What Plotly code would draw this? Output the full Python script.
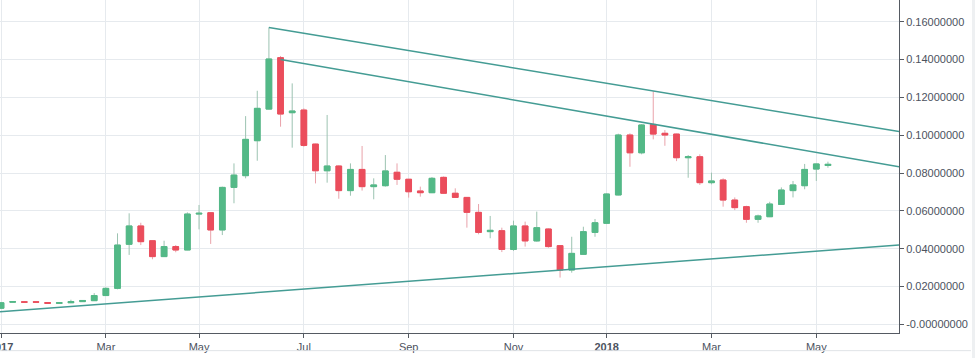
import pandas as pd
import plotly.graph_objects as go

# Weekly bars starting Monday 2017-01-02
week_start = "2017-01-02"
n_weeks = 72

open_ = [0.0085, 0.0117, 0.0119, 0.0119, 0.0115, 0.0111, 0.0114, 0.0120, 0.0125, 0.0152,
         0.0190, 0.0423, 0.0520, 0.0442, 0.0358, 0.0411, 0.0393, 0.0583, 0.0590, 0.0499,
         0.0724, 0.0786, 0.0971, 0.1138, 0.1410, 0.1119, 0.1133, 0.0953, 0.0812, 0.0837,
         0.0707, 0.0819, 0.0728, 0.0733, 0.0804, 0.0767, 0.0705, 0.0696, 0.0777, 0.0693,
         0.0671, 0.0592, 0.0490, 0.0495, 0.0396, 0.0520, 0.0441, 0.0504, 0.0416, 0.0287,
         0.0370, 0.0486, 0.0534, 0.0684, 0.1001, 0.0907, 0.1057, 0.1010, 0.1006, 0.0881,
         0.0886, 0.0749, 0.0763, 0.0657, 0.0622, 0.0555, 0.0569, 0.0634, 0.0707, 0.0733,
         0.0821, 0.0840]
high = [0.0116, 0.0122, 0.0121, 0.0120, 0.0116, 0.0116, 0.0130, 0.0127, 0.0165, 0.0195,
        0.0481, 0.0587, 0.0537, 0.0445, 0.0442, 0.0419, 0.0592, 0.0631, 0.0592, 0.0728,
        0.0851, 0.1101, 0.1235, 0.1570, 0.1419, 0.1274, 0.1142, 0.0955, 0.1107, 0.0840,
        0.0851, 0.0943, 0.0772, 0.0895, 0.0851, 0.0769, 0.0728, 0.0779, 0.0782, 0.0719,
        0.0673, 0.0636, 0.0573, 0.0511, 0.0548, 0.0543, 0.0596, 0.0507, 0.0418, 0.0463,
        0.0516, 0.0557, 0.0693, 0.1008, 0.1010, 0.1059, 0.1233, 0.1027, 0.1008, 0.0895,
        0.0899, 0.0802, 0.0772, 0.0671, 0.0627, 0.0580, 0.0648, 0.0724, 0.0758, 0.0848,
        0.0851, 0.0860]
low = [0.0083, 0.0115, 0.0116, 0.0115, 0.0110, 0.0110, 0.0113, 0.0118, 0.0124, 0.0150,
       0.0185, 0.0367, 0.0419, 0.0344, 0.0356, 0.0381, 0.0392, 0.0502, 0.0425, 0.0472,
       0.0640, 0.0772, 0.0865, 0.1136, 0.1045, 0.0934, 0.0939, 0.0745, 0.0749, 0.0664,
       0.0680, 0.0707, 0.0661, 0.0728, 0.0737, 0.0670, 0.0675, 0.0694, 0.0690, 0.0670,
       0.0511, 0.0476, 0.0455, 0.0382, 0.0388, 0.0411, 0.0437, 0.0405, 0.0247, 0.0273,
       0.0367, 0.0463, 0.0530, 0.0682, 0.0833, 0.0899, 0.0978, 0.0944, 0.0863, 0.0775,
       0.0737, 0.0740, 0.0622, 0.0604, 0.0537, 0.0537, 0.0567, 0.0631, 0.0671, 0.0714,
       0.0758, 0.0828]
close = [0.0114, 0.0120, 0.0117, 0.0117, 0.0111, 0.0114, 0.0120, 0.0126, 0.0152, 0.0190,
         0.0419, 0.0520, 0.0437, 0.0358, 0.0411, 0.0393, 0.0583, 0.0587, 0.0499, 0.0724,
         0.0789, 0.0978, 0.1142, 0.1403, 0.1112, 0.1128, 0.0946, 0.0812, 0.0837, 0.0707,
         0.0819, 0.0728, 0.0737, 0.0811, 0.0767, 0.0701, 0.0696, 0.0772, 0.0693, 0.0671,
         0.0592, 0.0486, 0.0497, 0.0396, 0.0520, 0.0441, 0.0511, 0.0411, 0.0287, 0.0375,
         0.0490, 0.0537, 0.0689, 0.1001, 0.0907, 0.1054, 0.1006, 0.1001, 0.0881, 0.0886,
         0.0749, 0.0758, 0.0657, 0.0617, 0.0555, 0.0573, 0.0636, 0.0710, 0.0737, 0.0819,
         0.0848, 0.0846]

# Trend lines (date, value)
trend_upper_dates = ["2017-06-12", "2018-06-25 17:00"]
trend_upper_values = [0.1570, 0.1019]
trend_mid_dates = ["2017-06-19", "2018-06-25 17:00"]
trend_mid_values = [0.1400, 0.0833]
trend_low_dates = ["2017-01-01 09:00", "2018-06-25 17:00"]
trend_low_values = [0.0067, 0.0419]

x_tick_dates = ["2017-01-02", "2017-03-06", "2017-05-01", "2017-07-03", "2017-09-04",
                "2017-11-06", "2018-01-01", "2018-03-05", "2018-05-07"]
x_tick_labels = ["<b>2017</b>", "Mar", "May", "Jul", "Sep", "Nov", "<b>2018</b>", "Mar", "May"]
y_tick_values = [0.0, 0.02, 0.04, 0.06, 0.08, 0.10, 0.12, 0.14, 0.16]
y_tick_labels = ["-0.00000000", "0.02000000", "0.04000000", "0.06000000", "0.08000000",
                 "0.10000000", "0.12000000", "0.14000000", "0.16000000"]

dates = pd.date_range(week_start, periods=n_weeks, freq="7D")

GREEN = "#53b987"
RED = "#eb4d5c"
LINE = "#449c94"

body_high = [max(o, c) for o, c in zip(open_, close)]
body_low = [min(o, c) for o, c in zip(open_, close)]

fig = go.Figure()
# wicks
fig.add_trace(go.Candlestick(
    x=dates, open=open_, high=high, low=low, close=close,
    increasing=dict(line=dict(color="#9cc3b1", width=1), fillcolor=GREEN),
    decreasing=dict(line=dict(color="#e9a2aa", width=1), fillcolor=RED),
    showlegend=False, hoverinfo="skip"))
# bodies
fig.add_trace(go.Candlestick(
    x=dates, open=open_, high=body_high, low=body_low, close=close,
    increasing=dict(line=dict(color=GREEN, width=1), fillcolor=GREEN),
    decreasing=dict(line=dict(color=RED, width=1), fillcolor=RED),
    showlegend=False))

for xs, ys in [(trend_upper_dates, trend_upper_values),
               (trend_mid_dates, trend_mid_values),
               (trend_low_dates, trend_low_values)]:
    fig.add_trace(go.Scatter(x=xs, y=ys, mode="lines",
                             line=dict(color=LINE, width=1.5),
                             showlegend=False, hoverinfo="skip"))

fig.update_layout(
    width=975, height=358,
    margin=dict(l=0, r=76, t=0, b=25, autoexpand=False),
    paper_bgcolor="white", plot_bgcolor="white",
    font=dict(family="Liberation Sans, Arial, sans-serif", size=11, color="#4c525e"),
    showlegend=False,
    boxgap=0.3,
    xaxis=dict(
        type="date",
        range=["2017-01-01 09:00", "2018-06-25 17:00"],
        rangeslider=dict(visible=False),
        tickvals=x_tick_dates, ticktext=x_tick_labels,
        ticklabeloverflow="allow",
        showgrid=True, gridcolor="#e6eaee", gridwidth=1,
        showline=True, linecolor="#555a62", linewidth=1,
        ticks="outside", ticklen=4, tickcolor="#555a62",
        tickfont=dict(size=11, color="#4c525e"),
        zeroline=False, fixedrange=True, automargin=False,
    ),
    yaxis=dict(
        side="right",
        range=[-0.0046, 0.1715],
        tickvals=y_tick_values, ticktext=y_tick_labels,
        showgrid=True, gridcolor="#e6eaee", gridwidth=1,
        showline=True, linecolor="#555a62", linewidth=1,
        ticks="outside", ticklen=4, tickcolor="#555a62",
        tickfont=dict(size=11, color="#4c525e"),
        zeroline=False, fixedrange=True, automargin=False,
    ),
    shapes=[
        dict(type="line", xref="paper", yref="paper", x0=0, x1=1.08, y0=-0.053, y1=-0.053,
             line=dict(color="#e0e3e7", width=1)),
        dict(type="rect", xref="paper", yref="paper", x0=1.0812, x1=1.09, y0=-0.08, y1=1.0,
             line=dict(width=0), fillcolor="#eef0f2"),
    ],
)

fig.write_html("out.html", config={"displayModeBar": False},
               post_script="document.body.style.margin='0';document.body.style.overflow='hidden';")
